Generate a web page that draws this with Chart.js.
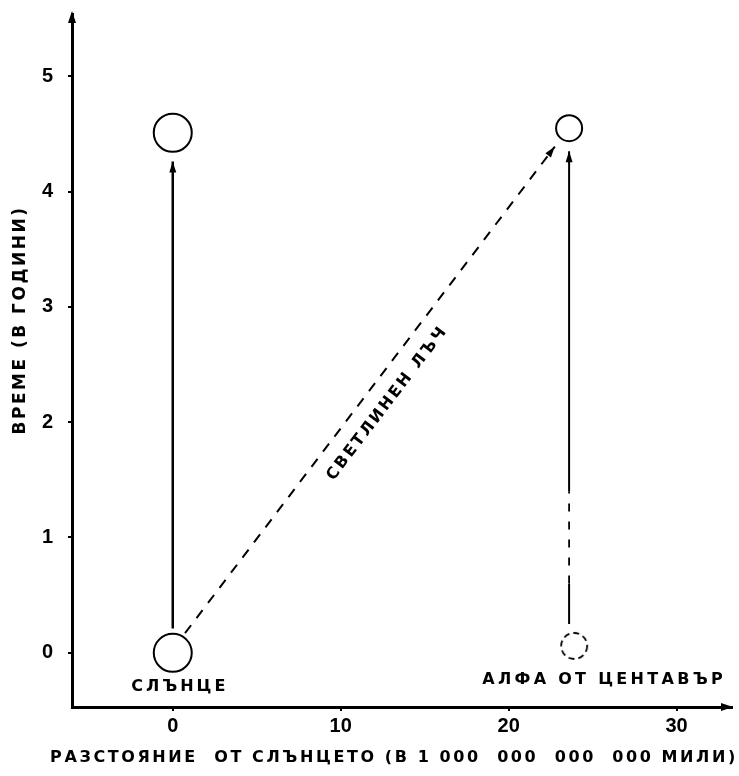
<!DOCTYPE html>
<html><head><meta charset="utf-8">
<script src="https://cdn.jsdelivr.net/npm/chart.js@4.4.1/dist/chart.umd.min.js"></script>
<style>html,body{margin:0;padding:0;background:#fff;overflow:hidden;}#wrap{width:739px;height:776px;position:relative;overflow:hidden;}</style>
</head><body><div id="wrap"><canvas id="c"></canvas></div>
<script>
// ---- data ----
const xTicks = [0, 10, 20, 30];
const yTicks = [0, 1, 2, 3, 4, 5];
const xTitle = 'РАЗСТОЯНИЕ  ОТ СЛЪНЦЕТО (В 1 000  000  000  000 МИЛИ)';
const yTitle = 'ВРЕМЕ (В ГОДИНИ)';
const sunLabel = 'СЛЪНЦЕ';
const alphaLabel = 'АЛФА ОТ ЦЕНТАВЪР';
const rayLabel = 'СВЕТЛИНЕН ЛЪЧ';
const sunLineX = [0, 0];
const sunLineT = [0.21, 4.26];
const alphaTopLineX = [23.6, 23.6];
const alphaTopLineT = [1.4, 4.35];
const alphaMidLineX = [23.6, 23.6];
const alphaMidLineT = [0.6, 1.4];
const alphaLowLineX = [23.6, 23.6];
const alphaLowLineT = [0.25, 0.6];
const rayX = [0.73, 22.75];
const rayT = [0.17, 4.39];
const sunCircleX = [0, 0];
const sunCircleT = [0.0, 4.51];
const alphaTopX = [23.6];
const alphaTopT = [4.55];
const alphaNowX = [23.9];
const alphaNowT = [0.06];

const pts = (xs, ys) => xs.map((x, i) => ({x: x, y: ys[i]}));

function dashedCircle(r) {
  const c = document.createElement('canvas');
  const s = 2 * r + 4;
  c.width = s; c.height = s;
  const g = c.getContext('2d');
  g.setLineDash([6, 4]);
  g.lineWidth = 1.8;
  g.strokeStyle = '#000';
  g.beginPath(); g.arc(s / 2, s / 2, r, 0, Math.PI * 2); g.stroke();
  return c;
}

function arrowHead(ctx, x1, y1, x2, y2, len, w) {
  const a = Math.atan2(y2 - y1, x2 - x1);
  ctx.save();
  ctx.translate(x2, y2); ctx.rotate(a);
  ctx.beginPath(); ctx.moveTo(0, 0); ctx.lineTo(-len, -w / 2); ctx.lineTo(-len, w / 2); ctx.closePath();
  ctx.fillStyle = '#000'; ctx.fill();
  ctx.restore();
}

const deco = {
  id: 'deco',
  afterDatasetsDraw(chart) {
    const ctx = chart.ctx;
    chart.data.datasets.forEach((ds, i) => {
      if (!ds.arrow) return;
      const m = chart.getDatasetMeta(i).data;
      const a = m[m.length - 2], b = m[m.length - 1];
      arrowHead(ctx, a.x, a.y, b.x, b.y, 11, 7);
    });
  },
  afterDraw(chart) {
    const ctx = chart.ctx, xs = chart.scales.x, ys = chart.scales.y, ca = chart.chartArea;
    // axis arrows
    arrowHead(ctx, ca.left, ca.top + 20, ca.left, ca.top - 3, 12, 8);
    arrowHead(ctx, ca.right - 20, ca.bottom, ca.right + 1, ca.bottom, 12, 8);
    ctx.save();
    ctx.fillStyle = '#000';
    ctx.textBaseline = 'middle';
    ctx.textAlign = 'center';
    // axis titles
    ctx.font = 'bold 16px "DejaVu Sans"';
    ctx.letterSpacing = '2.6px';
    ctx.fillText(xTitle, 394, 758);
    ctx.save();
    ctx.translate(21, 320); ctx.rotate(-Math.PI / 2);
    ctx.font = 'bold 17px "DejaVu Sans"';
    ctx.letterSpacing = '2.5px';
    ctx.fillText(yTitle, 0, 0);
    ctx.restore();
    // point labels
    ctx.font = 'bold 16px "DejaVu Sans"';
    ctx.letterSpacing = '3px';
    ctx.fillText(sunLabel, xs.getPixelForValue(sunCircleX[0]) + 7, ys.getPixelForValue(sunCircleT[0]) + 34);
    ctx.letterSpacing = '3.3px';
    ctx.textAlign = 'right';
    ctx.fillText(alphaLabel, 726, ys.getPixelForValue(alphaNowT[0]) + 34);
    ctx.textAlign = 'center';
    // ray label
    const x1 = xs.getPixelForValue(rayX[0]), y1 = ys.getPixelForValue(rayT[0]);
    const x2 = xs.getPixelForValue(rayX[1]), y2 = ys.getPixelForValue(rayT[1]);
    const ang = Math.atan2(y2 - y1, x2 - x1);
    const mx = (x1 + x2) / 2, my = (y1 + y2) / 2;
    const nx = -Math.sin(ang), ny = Math.cos(ang);
    ctx.save();
    ctx.translate(mx + 22 * nx, my + 22 * ny);
    ctx.rotate(ang);
    ctx.font = 'bold 16px "DejaVu Sans"';
    ctx.letterSpacing = '2.5px';
    ctx.fillText(rayLabel, 0, 0);
    ctx.restore();
    ctx.restore();
  }
};

const lineDs = (data, extra) => Object.assign({
  type: 'line', data: data, showLine: true, pointRadius: 0, borderColor: '#000', borderWidth: 2, fill: false
}, extra || {});

const tickFont = {family: '"Liberation Sans Narrow", "Liberation Sans"', weight: 'bold', size: 20};

new Chart(document.getElementById('c'), {
  type: 'scatter',
  data: {
    datasets: [
      lineDs(pts(sunLineX, sunLineT), {borderWidth: 2.5, arrow: true}),
      lineDs(pts(alphaTopLineX, alphaTopLineT), {borderWidth: 2, arrow: true}),
      lineDs(pts(alphaMidLineX, alphaMidLineT), {borderWidth: 1.8, borderDash: [8, 10]}),
      lineDs(pts(alphaLowLineX, alphaLowLineT), {borderWidth: 2}),
      lineDs(pts(rayX, rayT), {borderWidth: 2, borderDash: [10, 9], arrow: true}),
      {data: pts(sunCircleX, sunCircleT), pointRadius: 19, pointBorderWidth: 2, pointBackgroundColor: '#fff', pointBorderColor: '#000'},
      {data: pts(alphaTopX, alphaTopT), pointRadius: 13, pointBorderWidth: 2, pointBackgroundColor: '#fff', pointBorderColor: '#000'},
      {data: pts(alphaNowX, alphaNowT), pointStyle: dashedCircle(13)}
    ]
  },
  options: {
    responsive: true, maintainAspectRatio: false, animation: false,
    layout: {autoPadding: false, padding: {top: 14, right: 7, left: 0, bottom: 0}},
    plugins: {legend: {display: false}, tooltip: {enabled: false}},
    scales: {
      x: {
        type: 'linear', min: -6, max: 33.3,
        afterFit(s) { s.height = 69; s.paddingLeft = 0; s.paddingRight = 0; },
        afterBuildTicks(s) { s.ticks = xTicks.map(v => ({value: v})); },
        ticks: {color: '#000', padding: 3, font: tickFont, callback: v => String(v)},
        grid: {display: true, drawOnChartArea: false, drawTicks: true, tickLength: 4, color: '#000', lineWidth: 2},
        border: {display: true, color: '#000', width: 3}
      },
      y: {
        type: 'linear', min: -0.47, max: 5.54,
        afterFit(s) { s.width = 72; s.paddingTop = 0; s.paddingBottom = 0; },
        afterBuildTicks(s) { s.ticks = yTicks.map(v => ({value: v})); },
        ticks: {color: '#000', padding: 15, font: tickFont, callback: v => String(v)},
        grid: {display: true, drawOnChartArea: false, drawTicks: true, tickLength: 4, color: '#000', lineWidth: 2},
        border: {display: true, color: '#000', width: 3}
      }
    }
  },
  plugins: [deco]
});
</script></body></html>
